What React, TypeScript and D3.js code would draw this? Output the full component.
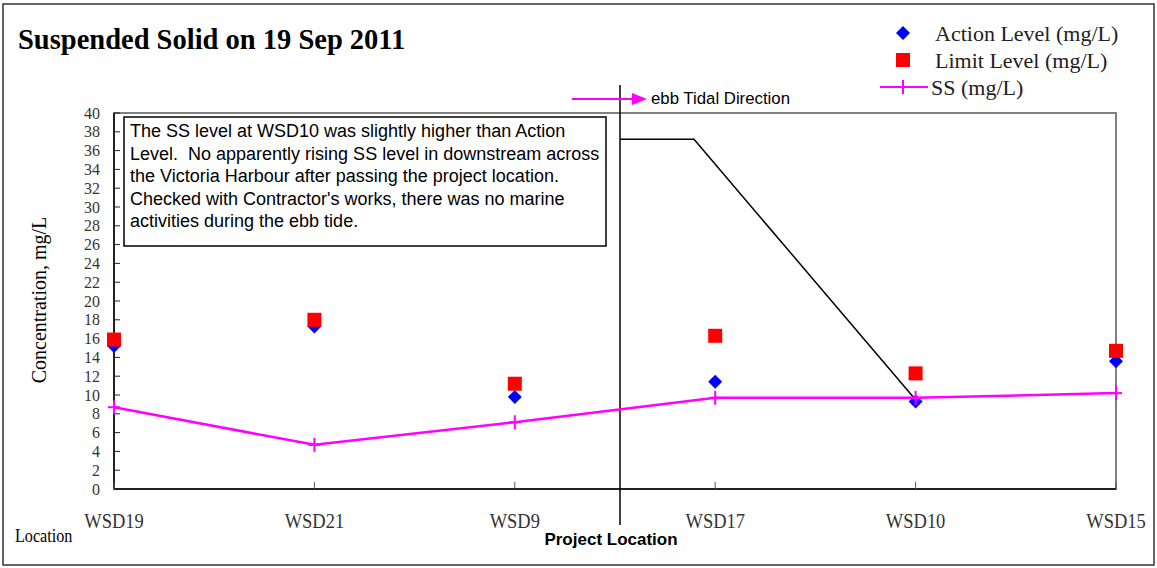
import React from "react";
import * as d3 from "d3";

const categories = ["WSD19", "WSD21", "WSD9", "WSD17", "WSD10", "WSD15"];
const actionLevel = [15.2, 17.3, 9.8, 11.4, 9.3, 13.6];
const limitLevel = [15.9, 18.0, 11.2, 16.3, 12.3, 14.7];
const ssValues = [8.7, 4.7, 7.1, 9.7, 9.7, 10.2];
const yTicks = d3.range(0, 41, 2);
const noteLines = [
  "The SS level at WSD10 was slightly higher than Action",
  "Level.  No apparently rising SS level in downstream across",
  "the Victoria Harbour after passing the project location.",
  "Checked with Contractor's works, there was no marine",
  "activities during the ebb tide.",
];

const W = 1157;
const H = 568;
const M = { left: 114, right: 1116, top: 113, bottom: 489 };

export default function App() {
  const x = d3
    .scalePoint<string>()
    .domain(categories)
    .range([M.left, M.right]);
  const y = d3.scaleLinear().domain([0, 40]).range([M.bottom, M.top]);
  const line = d3
    .line<number>()
    .x((_, i) => x(categories[i])!)
    .y((d) => y(d));

  const serif = "'Liberation Serif', 'Times New Roman', serif";
  const sans = "'Liberation Sans', Arial, sans-serif";
  const divX = (x("WSD9")! + x("WSD17")!) / 2 + 5;
  const pointerY = y(37.2);
  const wsd10 = x("WSD10")!;

  const diamond = (cx: number, cy: number, r = 7) =>
    `M${cx},${cy - r}L${cx + r},${cy}L${cx},${cy + r}L${cx - r},${cy}Z`;

  return (
    <svg
      width={W}
      height={H}
      style={{ position: "absolute", left: 0, top: 0, background: "#fff" }}
    >
      <rect x={3} y={4} width={1151} height={561} fill="#fff" stroke="#333" strokeWidth={1.5} />
      <text x={18} y={49} fontFamily={serif} fontWeight="bold" fontSize={28.5}>
        Suspended Solid on 19 Sep 2011
      </text>

      {/* Legend */}
      <path d={diamond(903, 33)} fill="#0000ff" />
      <text x={935} y={41} fontFamily={serif} fontSize={22} fill="#222">
        Action Level (mg/L)
      </text>
      <rect x={896} y={53} width={14} height={14} fill="#ff0000" />
      <text x={935} y={68} fontFamily={serif} fontSize={22} fill="#222">
        Limit Level (mg/L)
      </text>
      <line x1={880} x2={928} y1={87} y2={87} stroke="#ff00ff" strokeWidth={2} />
      <line x1={903} x2={903} y1={80} y2={94} stroke="#ff00ff" strokeWidth={2} />
      <text x={931} y={95} fontFamily={serif} fontSize={22} fill="#222">
        SS (mg/L)
      </text>

      {/* plot frame */}
      <rect
        x={M.left}
        y={M.top}
        width={M.right - M.left}
        height={M.bottom - M.top}
        fill="none"
        stroke="#808080"
        strokeWidth={2}
      />
      <line x1={M.left} x2={M.left} y1={M.top} y2={M.bottom} stroke="#222" strokeWidth={2} />
      <line x1={M.left} x2={M.right} y1={M.bottom} y2={M.bottom} stroke="#222" strokeWidth={2} />

      {yTicks.map((t) => (
        <g key={t}>
          <line x1={M.left} x2={M.left + 6} y1={y(t)} y2={y(t)} stroke="#222" strokeWidth={1} />
          <text
            transform={`translate(${M.left - 14},${y(t) + 5.5}) scale(0.95,1)`}
            textAnchor="end"
            fontFamily={serif}
            fontSize={16.8}
            fill="#333"
          >
            {t}
          </text>
        </g>
      ))}
      {categories.map((c) => (
        <g key={c}>
          <line x1={x(c)!} x2={x(c)!} y1={M.bottom} y2={M.bottom - 7} stroke="#555" strokeWidth={1} />
          <text
            transform={`translate(${x(c)!},${528}) scale(0.88,1)`}
            textAnchor="middle"
            fontFamily={serif}
            fontSize={21}
            fill="#333"
          >
            {c}
          </text>
        </g>
      ))}

      <text
        transform={`translate(46,300) rotate(-90)`}
        textAnchor="middle"
        fontFamily={serif}
        fontSize={20}
      >
        Concentration, mg/L
      </text>
      <text transform="translate(15,542) scale(0.85,1)" fontFamily={serif} fontSize={19}>
        Location
      </text>
      <text x={611} y={545} textAnchor="middle" fontFamily={sans} fontWeight="bold" fontSize={17}>
        Project Location
      </text>

      {/* note box */}
      <rect x={124} y={117} width={482} height={129} fill="#fff" stroke="#000" strokeWidth={1.5} />
      {noteLines.map((l, i) => (
        <text
          key={i}
          x={130}
          y={137 + i * 22.5}
          fontFamily={sans}
          fontSize={18}
          fill="#000"
          style={{ whiteSpace: "pre" }}
        >
          {l}
        </text>
      ))}

      {/* divider & pointer */}
      <line x1={divX} x2={divX} y1={85} y2={525} stroke="#000" strokeWidth={1.5} />
      <polyline
        points={`${divX},${pointerY} ${694},${pointerY} ${wsd10},${y(9.5)}`}
        fill="none"
        stroke="#000"
        strokeWidth={1.5}
      />

      {/* tidal arrow */}
      <line x1={572} x2={634} y1={99} y2={99} stroke="#ff00ff" strokeWidth={2} />
      <path d="M632,93L647,99L632,105Z" fill="#ff00ff" />
      <text x={651} y={104} fontFamily={sans} fontSize={16.8}>
        ebb Tidal Direction
      </text>

      {/* series */}
      {actionLevel.map((v, i) => (
        <path key={"a" + i} d={diamond(x(categories[i])!, y(v))} fill="#0000ff" />
      ))}
      {limitLevel.map((v, i) => (
        <rect
          key={"l" + i}
          x={x(categories[i])! - 7}
          y={y(v) - 7}
          width={14}
          height={14}
          fill="#ff0000"
        />
      ))}
      <path d={line(ssValues)!} fill="none" stroke="#ff00ff" strokeWidth={2.5} />
      {ssValues.map((v, i) => {
        const cx = x(categories[i])!;
        const cy = y(v);
        return (
          <g key={"s" + i} stroke="#ff00ff" strokeWidth={2}>
            <line x1={cx - 6} x2={cx + 6} y1={cy} y2={cy} />
            <line x1={cx} x2={cx} y1={cy - 7} y2={cy + 7} />
          </g>
        );
      })}
    </svg>
  );
}
